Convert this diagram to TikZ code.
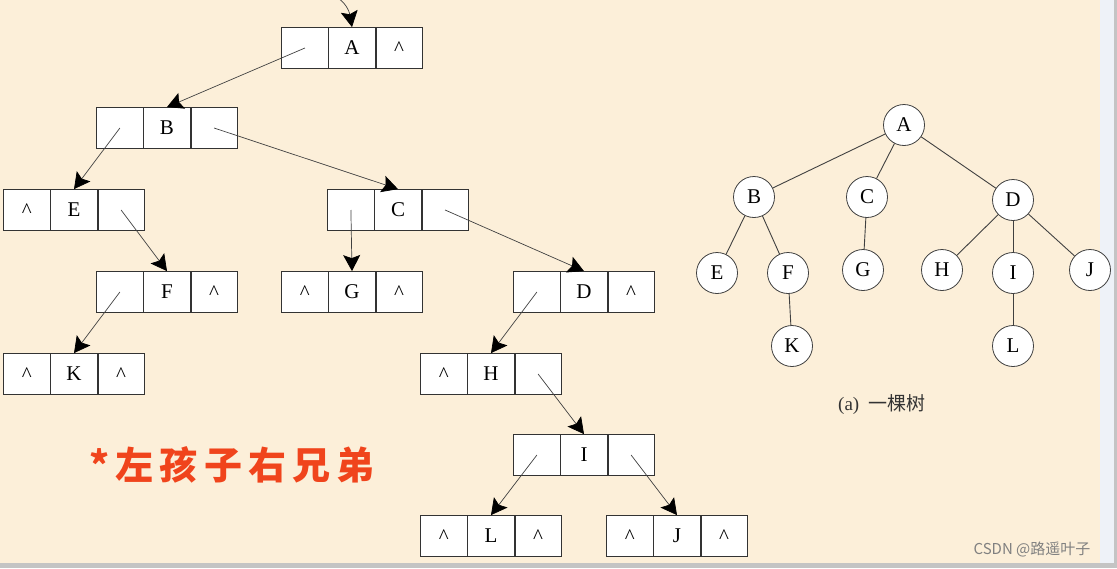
\documentclass[tikz,border=0pt]{standalone}
\usepackage{fontspec}
\setmainfont{Liberation Serif}
\newfontfamily\cjk{Noto Sans CJK SC}
\newfontfamily\cjkred[LetterSpace=16]{Noto Sans CJK SC}
\usepackage{xcolor}
\usetikzlibrary{positioning, arrows.meta}

\definecolor{paper}{HTML}{FCEFD9}
\definecolor{framebar}{HTML}{EEF2F8}
\definecolor{framegray}{HTML}{C4C4C4}
\definecolor{slogan}{HTML}{F0441C}
\newcommand{\nil}{\raisebox{-0.37em}[0pt][0pt]{\textasciicircum}}

\begin{document}
\begin{tikzpicture}[x=1pt, y=-1pt,
    cell/.style={draw=black!80, fill=white, line width=0.8pt, minimum width=46.3pt, minimum height=41pt, inner sep=0pt, font=\fontsize{21}{24}\selectfont},
    link/.style={-{Stealth[length=16pt, width=17pt, inset=3pt, black]}, draw=black!75, line width=0.7pt},
    tnode/.style={circle, draw=black!75, fill=white, line width=0.8pt, minimum size=41pt, inner sep=0pt, font=\fontsize{21}{24}\selectfont},
    tedge/.style={draw=black!75, line width=0.9pt}]
    \useasboundingbox (0,0) rectangle (1117,568);
    \fill[paper] (0,0) rectangle (1100,563);
    \fill[framebar] (1100,0) rectangle (1114,568);
    \fill[framegray] (1114,0) rectangle (1117,568);
    \fill[framegray] (0,563) rectangle (1117,568);

    \node[cell] (Am) at (352, 48) {A};
    \node[cell, left=0pt of Am] (Al) {};
    \node[cell, right=0pt of Am] (Ar) {\nil};
    \node[cell] (Bm) at (167, 128) {B};
    \node[cell, left=0pt of Bm] (Bl) {};
    \node[cell, right=0pt of Bm] (Br) {};
    \node[cell] (Em) at (74, 210) {E};
    \node[cell, left=0pt of Em] (El) {\nil};
    \node[cell, right=0pt of Em] (Er) {};
    \node[cell] (Cm) at (398, 210) {C};
    \node[cell, left=0pt of Cm] (Cl) {};
    \node[cell, right=0pt of Cm] (Cr) {};
    \node[cell] (Fm) at (167, 292) {F};
    \node[cell, left=0pt of Fm] (Fl) {};
    \node[cell, right=0pt of Fm] (Fr) {\nil};
    \node[cell] (Gm) at (352, 292) {G};
    \node[cell, left=0pt of Gm] (Gl) {\nil};
    \node[cell, right=0pt of Gm] (Gr) {\nil};
    \node[cell] (Dm) at (584, 292) {D};
    \node[cell, left=0pt of Dm] (Dl) {};
    \node[cell, right=0pt of Dm] (Dr) {\nil};
    \node[cell] (Km) at (74, 374) {K};
    \node[cell, left=0pt of Km] (Kl) {\nil};
    \node[cell, right=0pt of Km] (Kr) {\nil};
    \node[cell] (Hm) at (491, 374) {H};
    \node[cell, left=0pt of Hm] (Hl) {\nil};
    \node[cell, right=0pt of Hm] (Hr) {};
    \node[cell] (Im) at (584, 455) {I};
    \node[cell, left=0pt of Im] (Il) {};
    \node[cell, right=0pt of Im] (Ir) {};
    \node[cell] (Lm) at (491, 536) {L};
    \node[cell, left=0pt of Lm] (Ll) {\nil};
    \node[cell, right=0pt of Lm] (Lr) {\nil};
    \node[cell] (Jm) at (677, 536) {J};
    \node[cell, left=0pt of Jm] (Jl) {\nil};
    \node[cell, right=0pt of Jm] (Jr) {\nil};

    \coordinate (root) at (338, -2);
    \draw[link] (root) to[out=-35, in=100] (Am.north);
    \draw[link] (Al.center) -- (Bm.north);
    \draw[link] (Bl.center) -- (Em.north);
    \draw[link] (Br.center) -- (Cm.north);
    \draw[link] (Er.center) -- (Fm.north);
    \draw[link] (Cl.center) -- (Gm.north);
    \draw[link] (Cr.center) -- (Dm.north);
    \draw[link] (Fl.center) -- (Km.north);
    \draw[link] (Dl.center) -- (Hm.north);
    \draw[link] (Hr.center) -- (Im.north);
    \draw[link] (Il.center) -- (Lm.north);
    \draw[link] (Ir.center) -- (Jm.north);

    \node[text=slogan, font=\cjkred\bfseries\fontsize{38}{40}\selectfont] (motto) at (232, 465) {*左孩子右兄弟};

    \node[tnode] (tA) at (904, 125) {A};
    \node[tnode] (tB) at (754, 197) {B};
    \node[tnode] (tC) at (867, 197) {C};
    \node[tnode] (tD) at (1013, 200) {D};
    \node[tnode] (tE) at (717, 273) {E};
    \node[tnode] (tF) at (788, 273) {F};
    \node[tnode] (tG) at (863, 270) {G};
    \node[tnode] (tH) at (942, 270) {H};
    \node[tnode] (tI) at (1013, 273) {I};
    \node[tnode] (tJ) at (1090, 270) {J};
    \node[tnode] (tK) at (792, 346) {K};
    \node[tnode] (tL) at (1013, 346) {L};
    \draw[tedge] (tA) -- (tB);
    \draw[tedge] (tA) -- (tC);
    \draw[tedge] (tA) -- (tD);
    \draw[tedge] (tB) -- (tE);
    \draw[tedge] (tB) -- (tF);
    \draw[tedge] (tC) -- (tG);
    \draw[tedge] (tD) -- (tH);
    \draw[tedge] (tD) -- (tI);
    \draw[tedge] (tD) -- (tJ);
    \draw[tedge] (tF) -- (tK);
    \draw[tedge] (tI) -- (tL);
    \node[text=black!80, font=\fontsize{19}{22}\selectfont] (caption) at (882, 405) {(a)\ \ {\cjk 一棵树}};

    \node[text=black!50, font=\cjk\fontsize{15}{18}\selectfont] (mark) at (1032, 549) {CSDN @路遥叶子};
\end{tikzpicture}
\end{document}
